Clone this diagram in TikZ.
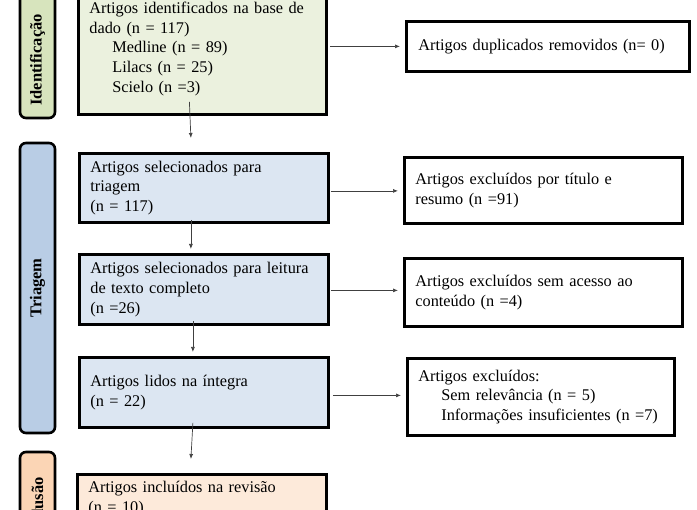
\documentclass[tikz,border=0pt]{standalone}
\usepackage{fontspec}
\setmainfont{Liberation Serif}
\usetikzlibrary{arrows.meta}

\definecolor{sidegreen}{HTML}{D7E4BD}
\definecolor{boxgreen}{HTML}{EBF1DE}
\definecolor{sideblue}{HTML}{B9CDE5}
\definecolor{boxblue}{HTML}{DCE6F2}
\definecolor{sidepeach}{HTML}{FBD5B5}
\definecolor{boxpeach}{HTML}{FDEADA}

\tikzset{
  phase/.style={draw=black, line width=2.6pt, rounded corners=6pt, minimum width=34pt},
  phasetext/.style={rotate=90, font=\fontsize{16.5}{18}\selectfont\bfseries},
  stage/.style={draw=black, line width=2.8pt, anchor=north west, align=left,
    inner xsep=11pt, inner ysep=0pt, font=\fontsize{16.3}{19.8}\selectfont},
  flow/.style={-{Latex[length=5pt,width=4pt]}, line width=0.7pt, black!75}
}

\begin{document}
\begin{tikzpicture}[x=1pt, y=-1pt]
  \useasboundingbox (0,0) rectangle (697,510);

  % fases
  \draw[phase, fill=sidegreen] (20,-30) rectangle (55,118);
  \node[phasetext] (fid) at (37.5,60) {Identificação};
  \draw[phase, fill=sideblue] (20,143) rectangle (55,433);
  \node[phasetext] (ftri) at (37.5,288) {Triagem};
  \draw[phase, fill=sidepeach] (20,452) rectangle (55,580);
  \node[phasetext] (finc) at (37.5,507) {Inclusão};

  % caixas da esquerda
  \node[stage, fill=boxgreen, text width=226pt, minimum height=131pt] (ident) at (77,-18)
    {Artigos identificados na base de\\dado (n = 117)\\
     \hspace*{23pt}Medline (n = 89)\\\hspace*{23pt}Lilacs (n = 25)\\\hspace*{23pt}Scielo (n =3)};
  \node[stage, fill=boxblue, text width=227pt, minimum height=69pt] (triag) at (78,152)
    {Artigos selecionados para\\triagem\\(n = 117)};
  \node[stage, fill=boxblue, text width=227pt, minimum height=70pt] (leitura) at (78,253)
    {Artigos selecionados para leitura\\de texto completo\\(n =26)};
  \node[stage, fill=boxblue, text width=227pt, minimum height=70pt] (lidos) at (78,356)
    {Artigos lidos na íntegra\\(n = 22)};
  \node[stage, fill=boxpeach, text width=227pt, minimum height=48pt] (incl) at (76,473)
    {Artigos incluídos na revisão\\(n = 10)};

  % caixas da direita
  \node[stage, fill=white, text width=259pt, minimum height=50pt, inner xsep=12pt] (dup) at (405,20)
    {Artigos duplicados removidos (n= 0)};
  \node[stage, fill=white, text width=256pt, minimum height=66pt] (extit) at (403,156)
    {Artigos excluídos por título e\\resumo (n =91)};
  \node[stage, fill=white, text width=256pt, minimum height=68pt] (exacc) at (403,257)
    {Artigos excluídos sem acesso ao\\conteúdo (n =4)};
  \node[stage, fill=white, text width=245pt, minimum height=77pt] (exrel) at (406,357)
    {Artigos excluídos:\\\hspace*{23pt}Sem relevância (n = 5)\\\hspace*{23pt}Informações insuficientes (n =7)};

  % setas
  \draw[flow] ([xshift=-13pt,yshift=14pt]ident.south) -- ([xshift=-13pt,yshift=14pt]triag.north);
  \draw[flow] ([xshift=-13pt,yshift=4pt]triag.south) -- ([xshift=-13pt,yshift=4pt]leitura.north);
  \draw[flow] ([xshift=-11pt,yshift=5pt]leitura.south) -- ([xshift=-11pt,yshift=4pt]lidos.north);
  \draw[flow] ([xshift=-11pt,yshift=6pt]lidos.south) -- ([xshift=-11pt,yshift=14pt]incl.north);
  \draw[flow] (ident.east |- dup.west) ++(2pt,0) -- ([xshift=-5pt]dup.west);
  \draw[flow] ([xshift=1pt,yshift=-3pt]triag.east) -- ([xshift=-5pt,yshift=-3pt]triag.east -| extit.west);
  \draw[flow] ([xshift=1pt,yshift=-1pt]leitura.east) -- ([xshift=-5pt,yshift=-1pt]leitura.east -| exacc.west);
  \draw[flow] ([xshift=3pt,yshift=-3pt]lidos.east) -- ([xshift=-5pt,yshift=-3pt]lidos.east -| exrel.west);
\end{tikzpicture}
\end{document}
